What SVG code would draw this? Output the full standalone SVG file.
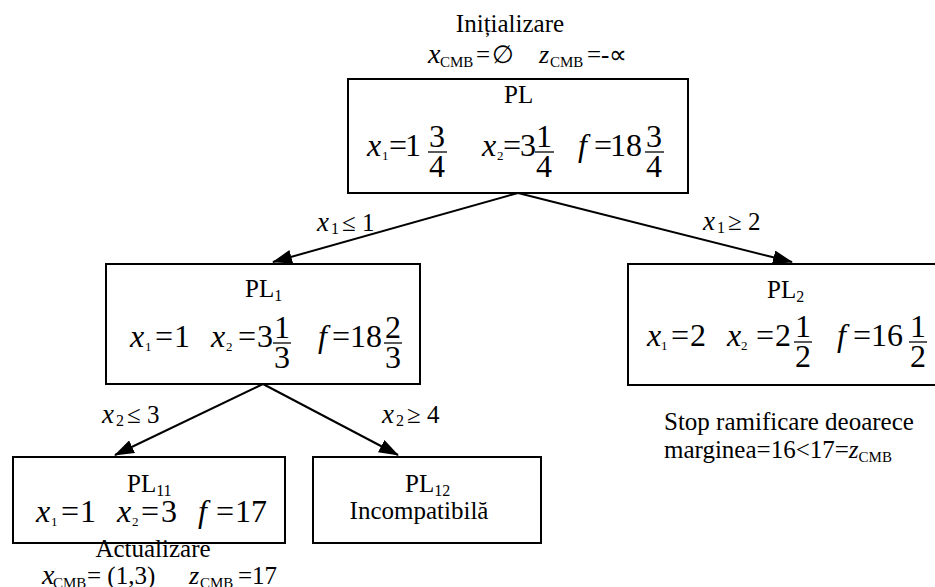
<svg xmlns="http://www.w3.org/2000/svg" width="935" height="587" viewBox="0 0 935 587">
<style>
text{font-family:'Liberation Serif','Times New Roman',serif;fill:#000}
.t{font-size:25px}
.eq{font-size:32px}
.i{font-style:italic}
.s{font-size:13px}
.sb{font-size:16px}
.cmb{font-size:15px}
.box{fill:#fff;stroke:#000;stroke-width:2}
.bar{stroke:#000;stroke-width:1.3}
.c{text-anchor:middle}
.edge{stroke:#000;stroke-width:2;fill:none;marker-end:url(#ah)}
</style>
<defs>
<marker id="ah" markerUnits="userSpaceOnUse" markerWidth="20" markerHeight="14" viewBox="0 0 20 14" refX="19" refY="7" orient="auto">
<path d="M0,0 L20,7 L0,14 z" fill="#000"/>
</marker>
</defs>

<g id="init">
<text class="t c" x="510" y="32">Inițializare</text>
<text class="t" y="63"><tspan x="428" class="i" style="font-size:28px">x</tspan><tspan class="cmb" x="440" y="67">CMB</tspan><tspan x="476" y="63">=</tspan><tspan x="492">∅</tspan><tspan x="539" class="i" style="font-size:26px">z</tspan><tspan class="cmb" x="550" y="67">CMB</tspan><tspan x="587" y="63">=-∝</tspan></text>
</g>

<g id="connectors">
<line class="edge" x1="518" y1="193" x2="273" y2="262"/>
<line class="edge" x1="518" y1="193" x2="792" y2="262"/>
<line class="edge" x1="263" y1="384" x2="115" y2="455"/>
<line class="edge" x1="263" y1="384" x2="398" y2="455"/>
<text class="t" y="231"><tspan x="317" class="i" style="font-size:27px">x</tspan><tspan class="sb" x="331" y="234">1</tspan><tspan x="342" y="231">≤ 1</tspan></text>
<text class="t" y="230"><tspan x="703" class="i" style="font-size:27px">x</tspan><tspan class="sb" x="717" y="233">1</tspan><tspan x="728" y="230">≥ 2</tspan></text>
<text class="t" y="423"><tspan x="102" class="i" style="font-size:27px">x</tspan><tspan class="sb" x="116" y="426">2</tspan><tspan x="127" y="423">≤ 3</tspan></text>
<text class="t" y="423"><tspan x="382" class="i" style="font-size:27px">x</tspan><tspan class="sb" x="396" y="426">2</tspan><tspan x="407" y="423">≥ 4</tspan></text>
</g>

<g id="node-PL">
<rect class="box" x="348" y="79" width="340" height="114"/>
<text class="t" x="504" y="103">PL</text>
<text class="eq" y="156"><tspan x="367" class="i">x</tspan><tspan class="s" x="382" y="160">1</tspan><tspan x="389" y="156">=</tspan><tspan x="405">1</tspan></text>
<text class="eq c" x="437" y="147">3</text><line class="bar" x1="428" y1="152" x2="447" y2="152"/><text class="eq c" x="437" y="177">4</text>
<text class="eq" y="156"><tspan x="482" class="i">x</tspan><tspan class="s" x="497" y="160">2</tspan><tspan x="503" y="156">=</tspan><tspan x="520">3</tspan></text>
<text class="eq c" x="544" y="147">1</text><line class="bar" x1="535" y1="152" x2="554" y2="152"/><text class="eq c" x="544" y="177">4</text>
<text class="eq" y="156"><tspan x="578" class="i">f</tspan><tspan x="594">=</tspan><tspan x="610">18</tspan></text>
<text class="eq c" x="654" y="147">3</text><line class="bar" x1="645" y1="152" x2="664" y2="152"/><text class="eq c" x="654" y="177">4</text>
</g>

<g id="node-PL1">
<rect class="box" x="106" y="264" width="314" height="120"/>
<text class="t" y="297"><tspan x="245">PL</tspan><tspan class="sb" y="301">1</tspan></text>
<text class="eq" y="347"><tspan x="130" class="i">x</tspan><tspan class="s" x="145" y="351">1</tspan><tspan x="155" y="347">=</tspan><tspan x="174">1</tspan><tspan x="211" class="i">x</tspan><tspan class="s" x="226" y="351">2</tspan><tspan x="238" y="347">=</tspan><tspan x="257">3</tspan></text>
<text class="eq c" x="282" y="338">1</text><line class="bar" x1="273" y1="343" x2="291" y2="343"/><text class="eq c" x="282" y="368">3</text>
<text class="eq" y="347"><tspan x="318" class="i">f</tspan><tspan x="332">=</tspan><tspan x="350">18</tspan></text>
<text class="eq c" x="393" y="338">2</text><line class="bar" x1="384" y1="343" x2="402" y2="343"/><text class="eq c" x="393" y="368">3</text>
</g>

<g id="node-PL2">
<rect class="box" x="628" y="264" width="312" height="121"/>
<text class="t" y="298"><tspan x="767">PL</tspan><tspan class="sb" y="302">2</tspan></text>
<text class="eq" y="346"><tspan x="647" class="i">x</tspan><tspan class="s" x="661" y="350">1</tspan><tspan x="671" y="346">=</tspan><tspan x="690">2</tspan><tspan x="727" class="i">x</tspan><tspan class="s" x="741" y="350">2</tspan><tspan x="756" y="346">=</tspan><tspan x="775">2</tspan></text>
<text class="eq c" x="803" y="337">1</text><line class="bar" x1="794" y1="342" x2="812" y2="342"/><text class="eq c" x="803" y="367">2</text>
<text class="eq" y="346"><tspan x="837" class="i">f</tspan><tspan x="853">=</tspan><tspan x="871">16</tspan></text>
<text class="eq c" x="918" y="337">1</text><line class="bar" x1="909" y1="342" x2="927" y2="342"/><text class="eq c" x="918" y="367">2</text>
</g>

<g id="stop-note">
<text class="t" x="664" y="430">Stop ramificare deoarece</text>
<text class="t" y="458"><tspan x="664">marginea=16&lt;17=</tspan><tspan class="i">z</tspan><tspan class="cmb" y="462">CMB</tspan></text>
</g>

<g id="node-PL11">
<rect class="box" x="13" y="457" width="272" height="86"/>
<text class="t" y="492"><tspan x="127">PL</tspan><tspan class="sb" y="496">11</tspan></text>
<text class="eq" y="522"><tspan x="36" class="i">x</tspan><tspan class="s" x="51" y="526">1</tspan><tspan x="61" y="522">=</tspan><tspan x="80">1</tspan><tspan x="117" class="i">x</tspan><tspan class="s" x="132" y="526">2</tspan><tspan x="141" y="522">=</tspan><tspan x="161">3</tspan><tspan x="198" class="i">f</tspan><tspan x="216">=</tspan><tspan x="235">17</tspan></text>
</g>

<g id="node-PL12">
<rect class="box" x="313" y="457" width="228" height="86"/>
<text class="t" y="492"><tspan x="405">PL</tspan><tspan class="sb" y="496">12</tspan></text>
<text class="t c" x="419" y="519">Incompatibilă</text>
</g>

<g id="update">
<text class="t c" x="153" y="557">Actualizare</text>
<text class="t" y="584"><tspan x="42" class="i" style="font-size:28px">x</tspan><tspan class="cmb" x="53" y="588">CMB</tspan><tspan x="87" y="584">= (1,3)</tspan><tspan x="189" class="i" style="font-size:26px">z</tspan><tspan class="cmb" x="200" y="588">CMB</tspan><tspan x="238" y="584">=17</tspan></text>
</g>
</svg>
